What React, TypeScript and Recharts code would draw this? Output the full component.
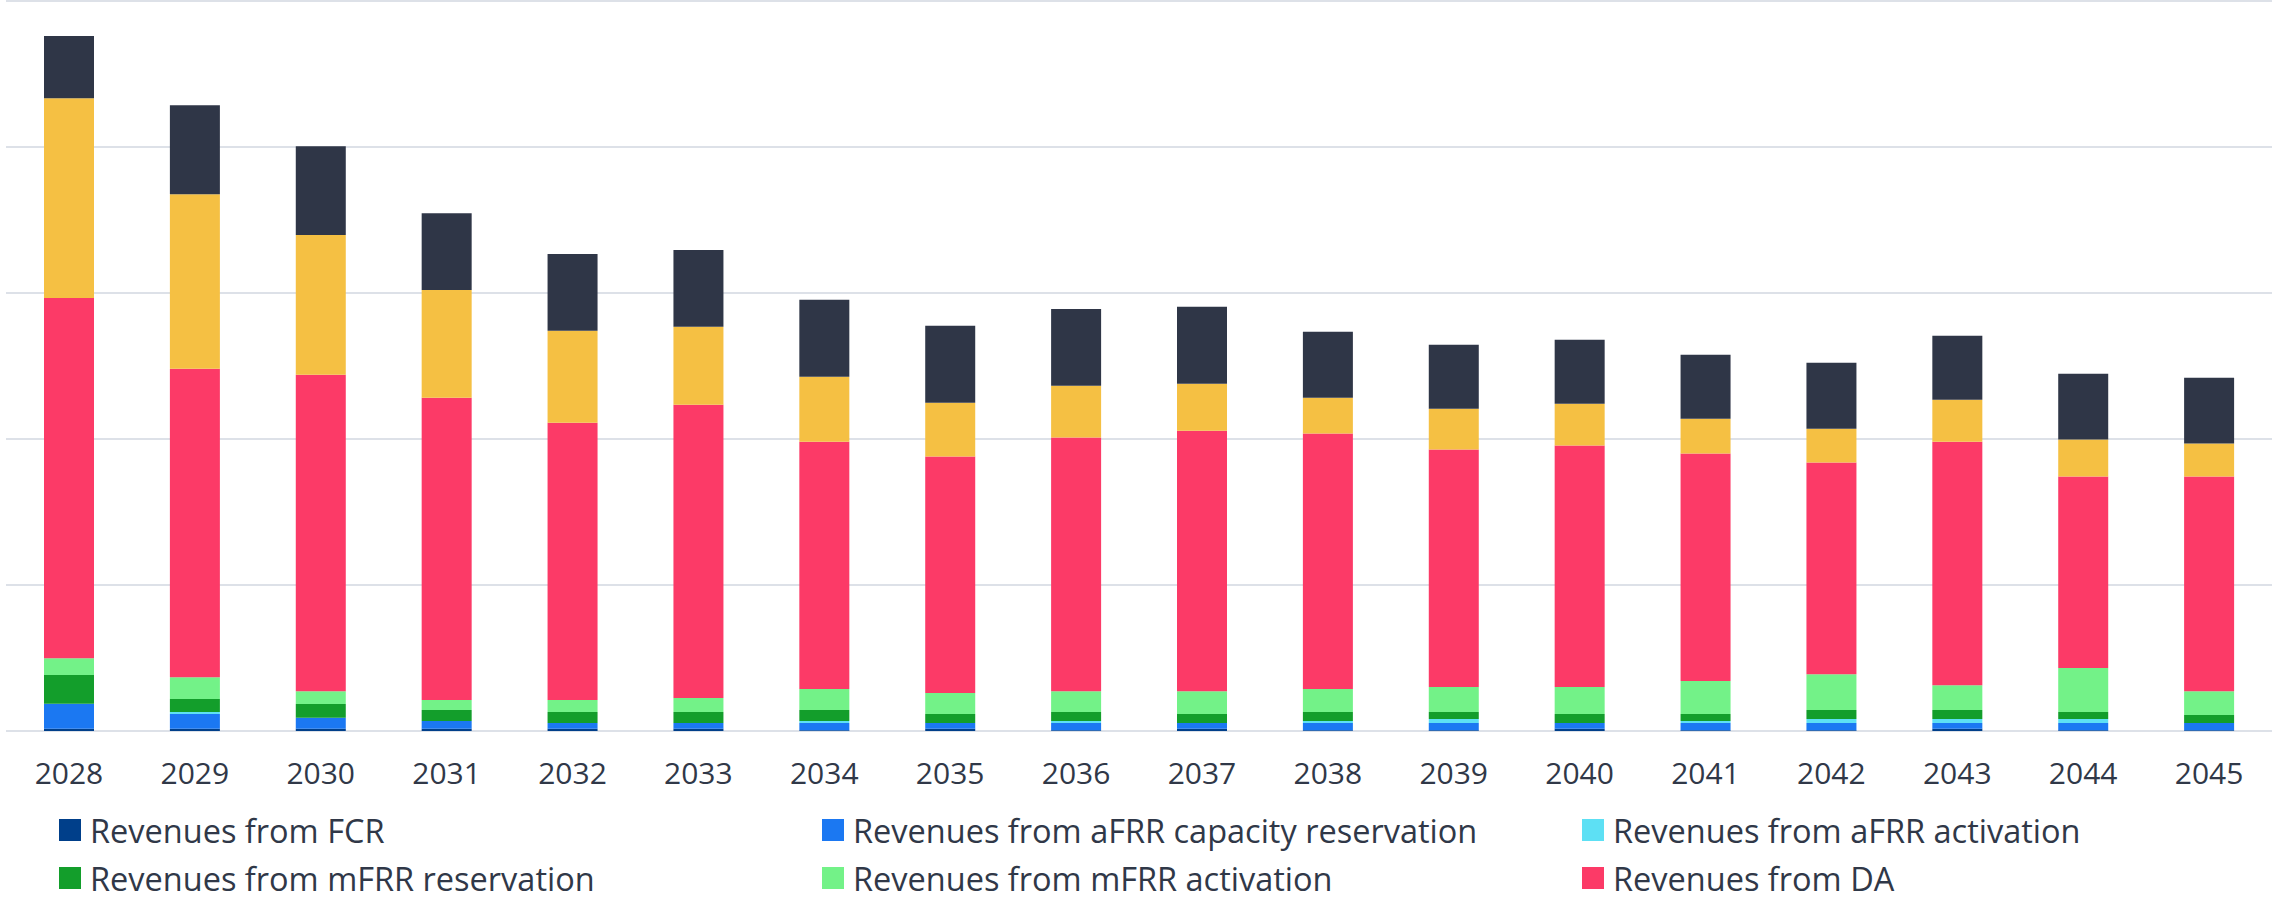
import { BarChart, Bar, XAxis, YAxis, CartesianGrid } from "recharts";

const YEARS = [
  "2028", "2029", "2030", "2031", "2032", "2033", "2034", "2035", "2036",
  "2037", "2038", "2039", "2040", "2041", "2042", "2043", "2044", "2045",
];

const FCR = [1.5, 1.6, 1.6, 1.6, 1.6, 1.6, 0.5, 1.6, 0.5, 1.6, 0.5, 0.5, 1.6, 0.5, 0.5, 1.6, 0.5, 0.5];
const AFRR_CAP = [17.2, 10.0, 7.5, 5.2, 3.9, 3.9, 5.0, 3.9, 5.0, 3.9, 5.0, 5.0, 3.9, 5.0, 5.0, 3.9, 5.0, 5.0];
const AFRR_ACT = [0, 1.4, 0, 0, 0, 0, 1.3, 0, 1.3, 0, 1.3, 2.7, 0, 1.3, 2.7, 2.7, 2.7, 0];
const MFRR_RES = [19.6, 8.9, 9.4, 7.6, 7.5, 7.5, 7.6, 6.1, 6.2, 6.1, 6.2, 4.8, 6.1, 4.8, 6.2, 6.2, 4.8, 5.4];
const MFRR_ACT = [11.6, 15.0, 8.8, 6.8, 8.2, 9.6, 14.3, 14.4, 14.3, 15.7, 15.7, 17.1, 18.5, 22.6, 24.5, 17.0, 30.1, 16.4];
const DA = [246.7, 211.2, 216.7, 207.1, 190.0, 200.9, 169.5, 162.0, 173.7, 178.4, 175.0, 162.7, 165.4, 155.8, 145.0, 166.8, 131.2, 147.0];
// two top segments have no entry in the visible legend
const OTHER_A = [136.8, 119.6, 95.7, 73.8, 62.9, 53.3, 44.5, 36.9, 35.5, 32.2, 24.6, 28.0, 28.7, 23.9, 23.2, 28.7, 25.3, 22.6];
const OTHER_B = [42.6, 60.9, 60.8, 52.6, 52.6, 52.7, 52.6, 52.6, 52.6, 52.6, 45.1, 43.7, 43.7, 43.8, 45.1, 43.8, 45.1, 45.1];

const Y_TICKS = [0, 100, 200, 300, 400, 500];

const SERIES = [
  { key: "fcr", name: "Revenues from FCR", color: "#003f8a", values: FCR, legend: true },
  { key: "afrrCap", name: "Revenues from aFRR capacity reservation", color: "#1b78f2", values: AFRR_CAP, legend: true },
  { key: "afrrAct", name: "Revenues from aFRR activation", color: "#5de0f4", values: AFRR_ACT, legend: true },
  { key: "mfrrRes", name: "Revenues from mFRR reservation", color: "#139e2b", values: MFRR_RES, legend: true },
  { key: "mfrrAct", name: "Revenues from mFRR activation", color: "#73f288", values: MFRR_ACT, legend: true },
  { key: "da", name: "Revenues from DA", color: "#fc3a67", values: DA, legend: true },
  { key: "otherA", name: "otherA", color: "#f5c043", values: OTHER_A, legend: false },
  { key: "otherB", name: "otherB", color: "#2f3647", values: OTHER_B, legend: false },
];

const data = YEARS.map((year, i) => {
  const row: Record<string, string | number> = { year };
  SERIES.forEach((s) => (row[s.key] = s.values[i]));
  return row;
});

const TEXT = "#303848";
const FONT = "'Open Sans', 'Noto Sans', sans-serif";

export default function App() {
  const legendItems = SERIES.filter((s) => s.legend);
  return (
    <div style={{ position: "absolute", left: 0, top: 0, width: 2272, height: 898, background: "#fff", fontFamily: FONT }}>
      <BarChart width={2272} height={800} data={data} margin={{ top: 1, right: 0, left: 6, bottom: 0 }} barSize={50}>
        <CartesianGrid vertical={false} stroke="#dde1e8" strokeWidth={2} />
        <XAxis
          dataKey="year"
          axisLine={false}
          tickLine={false}
          tickMargin={26}
          height={69}
          interval={0}
          tick={{ fontSize: 30, fill: TEXT, fontFamily: FONT }}
        />
        <YAxis hide domain={[0, 500]} ticks={Y_TICKS} />
        {SERIES.map((s) => (
          <Bar key={s.key} dataKey={s.key} name={s.name} stackId="a" fill={s.color} isAnimationActive={false} />
        ))}
      </BarChart>
      <div
        style={{
          position: "absolute",
          left: 59,
          top: 808,
          display: "grid",
          gridTemplateColumns: "763px 760px 680px",
          rowGap: 4,
        }}
      >
        {legendItems.map((s) => (
          <div key={s.key} style={{ display: "flex", alignItems: "center", height: 44 }}>
            <span style={{ width: 22, height: 22, background: s.color, marginRight: 9, flexShrink: 0 }} />
            <span style={{ fontSize: 32.5, color: TEXT, whiteSpace: "nowrap" }}>{s.name}</span>
          </div>
        ))}
      </div>
    </div>
  );
}
